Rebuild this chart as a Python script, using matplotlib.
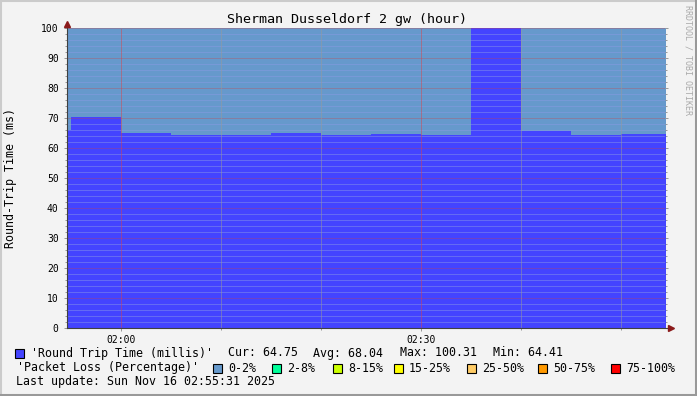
import matplotlib
matplotlib.use('Agg')
import matplotlib.pyplot as plt
from matplotlib.patches import Rectangle
from matplotlib.lines import Line2D

# image size in pixels
W, H = 697, 396

# 5 minute steps (start times) and the measured values
step_starts = ["01:50", "01:55", "02:00", "02:05", "02:10", "02:15", "02:20",
               "02:25", "02:30", "02:35", "02:40", "02:45", "02:50"]
rtt_ms = [65.9, 70.4, 65.1, 64.45, 64.5, 65.1, 64.5,
          64.8, 64.45, 100.31, 65.8, 64.41, 64.75]
loss_pct = [0, 0, 0, 0, 0, 0, 0, 0, 0, 0, 0, 0, 0]

loss_labels = ["0-2%", "2-8%", "8-15%", "15-25%", "25-50%", "50-75%", "75-100%"]
loss_limits = [2, 8, 15, 25, 50, 75, 100]
loss_colors = ["#6699cc", "#00ff99", "#ccff00", "#ffff00", "#ffcc66", "#ff9900", "#ff0000"]

rtt_stats = [("Cur:", "64.75"), ("Avg:", "68.04"), ("Max:", "100.31"), ("Min:", "64.41")]
last_update = "Last update: Sun Nov 16 02:55:31 2025"
title = "Sherman Dusseldorf 2 gw (hour)"

view_start = "01:54:36"
view_end = "02:54:24"
step_min = 5

MONO = "DejaVu Sans Mono"
RTT_COLOR = "#4444ff"


def minutes(t):
    parts = [int(p) for p in t.split(":")]
    while len(parts) < 3:
        parts.append(0)
    return (parts[0] - 2) * 60 + parts[1] + parts[2] / 60.0


def fx(px):
    return px / W


def fy(py):
    return 1 - py / H


def loss_color(p):
    for lim, c in zip(loss_limits, loss_colors):
        if p <= lim:
            return c
    return loss_colors[-1]


fig = plt.figure(figsize=(W / 100, H / 100), dpi=100, facecolor="#f3f3f3")

# frame shading
fig.add_artist(Line2D([fx(1), fx(1)], [fy(0), fy(H)], color="#cbcbcb", lw=1.5, transform=fig.transFigure))
fig.add_artist(Line2D([fx(0), fx(W)], [fy(1), fy(1)], color="#cbcbcb", lw=1.5, transform=fig.transFigure))
fig.add_artist(Line2D([fx(W - 1.5), fx(W - 1.5)], [fy(0), fy(H)], color="#999999", lw=2.2, transform=fig.transFigure))
fig.add_artist(Line2D([fx(0), fx(W)], [fy(H - 1.5), fy(H - 1.5)], color="#999999", lw=2.2, transform=fig.transFigure))

ax = fig.add_axes([fx(67), fy(328), 598 / W, 300 / H])
ax.set_facecolor("white")

xs = [minutes(s) for s in step_starts]
edges = xs + [xs[-1] + step_min]

# packet loss background
for i in range(len(xs)):
    ax.fill_between([edges[i], edges[i + 1]], 0, 100, color=loss_color(loss_pct[i]), lw=0, zorder=1)

# round trip time
ax.fill_between(edges, rtt_ms + [rtt_ms[-1]], 0, step="post", color=RTT_COLOR, lw=0, zorder=2)

x0, x1 = minutes(view_start), minutes(view_end)
ax.set_xlim(x0, x1)
ax.set_ylim(0, 100)

# grid (1px dotted)
dot = (0, (1, 1))
for v in range(2, 100, 2):
    if v % 10:
        ax.plot([x0, x1], [v, v], color="#8d9be6", alpha=0.45, lw=0.72, ls=dot, zorder=3,
                antialiased=False)
for v in range(10, 101, 10):
    ax.plot([x0, x1], [v, v], color="#d04040", alpha=0.3, lw=0.72, ls=dot, zorder=3,
            clip_on=False, antialiased=False)
for m in [10, 20, 40, 50]:
    ax.axvline(m, color="#999999", alpha=0.5, lw=0.72, ls=dot, zorder=3, antialiased=False)
for m in [0, 30]:
    ax.axvline(m, color="#e04040", alpha=0.45, lw=0.72, ls=dot, zorder=3, antialiased=False)

for s in ax.spines.values():
    s.set_visible(False)

ax.set_yticks(range(0, 101, 10))
ax.set_yticks(range(0, 101, 2), minor=True)
ax.set_xticks([0, 30])
ax.set_xticklabels(["02:00", "02:30"])
ax.set_xticks([10, 20, 40, 50], minor=True)
ax.tick_params(axis="both", which="both", labelsize=7, colors="#999999", labelcolor="black",
               width=0.72, direction="out")
ax.tick_params(axis="y", which="major", length=2.5, pad=3.5, right=True)
ax.tick_params(axis="y", which="minor", length=1.5, right=True)
ax.tick_params(axis="x", which="major", length=2.5, pad=2.5)
ax.tick_params(axis="x", which="minor", length=1.5)
for lab in ax.get_xticklabels() + ax.get_yticklabels():
    lab.set_family(MONO)

# axes with arrows
ax.plot([0, 0], [0, 1 + 4 / 300], transform=ax.transAxes, color="#404040", lw=0.8, clip_on=False, zorder=5)
ax.plot([0, 1 + 5 / 598], [0, 0], transform=ax.transAxes, color="#404040", lw=0.8, clip_on=False, zorder=5)
ax.plot([0], [1 + 4.5 / 300], transform=ax.transAxes, marker="^", ms=5, color="#8b1a1a", clip_on=False, zorder=6)
ax.plot([1 + 5.5 / 598], [0], transform=ax.transAxes, marker=">", ms=5, color="#8b1a1a", clip_on=False, zorder=6)

# texts
fig.text(fx(347), fy(19), title, ha="center", va="center", family=MONO, fontsize=9.6)
fig.text(fx(11), fy(178), "Round-Trip Time (ms)", rotation=90, ha="center", va="center",
         family=MONO, fontsize=8.4)
fig.text(fx(688), fy(60), "RRDTOOL / TOBI OETIKER", rotation=270, ha="center", va="center",
         family=MONO, fontsize=6, color="#aaaaaa")


def swatch(px, py, color):
    fig.add_artist(Rectangle((fx(px), fy(py + 9)), 9 / W, 9 / H, transform=fig.transFigure,
                             facecolor=color, edgecolor="black", lw=0.8))


def ltext(px, py, s):
    fig.text(fx(px), fy(py), s, ha="left", va="center", family=MONO, fontsize=8.4)


# legend row 1
swatch(15, 349, RTT_COLOR)
ltext(31, 353, "'Round Trip Time (millis)'")
for (k, v), px in zip(rtt_stats, [228, 313, 400, 493]):
    ltext(px, 353, k + " " + v)

# legend row 2
ltext(17, 368, "'Packet Loss (Percentage)'")
sw_x = [213, 272, 333, 394, 467, 538, 611]
for lab, c, px in zip(loss_labels, loss_colors, sw_x):
    swatch(px, 364, c)
    ltext(px + 15, 368, lab)

# legend row 3
ltext(16, 382, last_update)

fig.savefig("out.png", dpi=100, facecolor=fig.get_facecolor())
